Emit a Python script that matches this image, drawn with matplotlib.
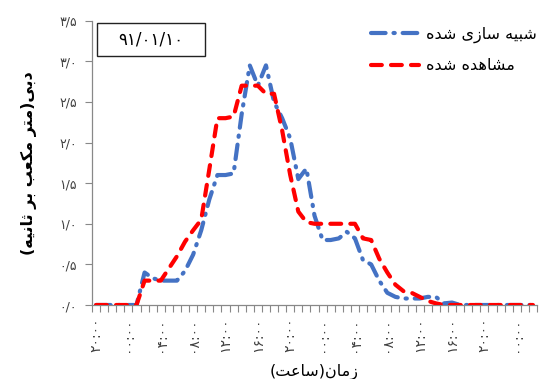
import matplotlib
matplotlib.use("Agg")
import matplotlib.pyplot as plt
from matplotlib.patches import Rectangle
import numpy as np

plt.rcParams['font.family'] = ['DejaVu Sans']

# ---------------- data ----------------
hours = [(20 + i) % 24 for i in range(55)]
simulated = [0, 0, 0, 0, 0, 0, 0.40, 0.33, 0.30, 0.30,
             0.30, 0.42, 0.62, 0.92, 1.30, 1.60, 1.60, 1.62, 2.35, 2.95,
             2.70, 2.95, 2.50, 2.30, 2.05, 1.55, 1.68, 1.10, 0.80, 0.80,
             0.82, 0.90, 0.82, 0.55, 0.50, 0.30, 0.15, 0.10, 0.08, 0.08,
             0.08, 0.10, 0.10, 0.02, 0.03, 0, 0, 0, 0, 0,
             0, 0, 0, 0, 0]
observed = [0, 0, 0, 0, 0, 0, 0.30, 0.30, 0.30, 0.45,
            0.60, 0.78, 0.92, 1.05, 1.67, 2.30, 2.30, 2.32, 2.70, 2.70,
            2.70, 2.60, 2.60, 2.15, 1.60, 1.15, 1.02, 1.00, 1.00, 1.00,
            1.00, 1.00, 1.00, 0.82, 0.80, 0.57, 0.40, 0.25, 0.17, 0.15,
            0.10, 0.05, 0.02, 0, 0, 0, 0, 0, 0, 0,
            0, 0, 0, 0, 0]
y_ticks = [0.0, 0.5, 1.0, 1.5, 2.0, 2.5, 3.0, 3.5]
date_text = "۹۱/۰۱/۱۰"
legend_sim = "شبیه سازی شده"
legend_obs = "مشاهده شده"
y_title = "دبی(متر مکعب بر ثانیه)"
x_title = "زمان(ساعت)"

# ---------------- simple Persian shaping ----------------
FORMS = {
    'ا': ('\uFE8D', '\uFE8E', None, None),
    'ب': ('\uFE8F', '\uFE90', '\uFE91', '\uFE92'),
    'ت': ('\uFE95', '\uFE96', '\uFE97', '\uFE98'),
    'ث': ('\uFE99', '\uFE9A', '\uFE9B', '\uFE9C'),
    'د': ('\uFEA9', '\uFEAA', None, None),
    'ر': ('\uFEAD', '\uFEAE', None, None),
    'ز': ('\uFEAF', '\uFEB0', None, None),
    'س': ('\uFEB1', '\uFEB2', '\uFEB3', '\uFEB4'),
    'ش': ('\uFEB5', '\uFEB6', '\uFEB7', '\uFEB8'),
    'ع': ('\uFEC9', '\uFECA', '\uFECB', '\uFECC'),
    'م': ('\uFEE1', '\uFEE2', '\uFEE3', '\uFEE4'),
    'ن': ('\uFEE5', '\uFEE6', '\uFEE7', '\uFEE8'),
    'ه': ('\uFEE9', '\uFEEA', '\uFEEB', '\uFEEC'),
    'ک': ('\uFB8E', '\uFB8F', '\uFB90', '\uFB91'),
    'ی': ('\uFBFC', '\uFBFD', '\uFBFE', '\uFBFF'),
}


def shape(s):
    out = []
    for k, c in enumerate(s):
        if c not in FORMS:
            out.append(c)
            continue
        prev = s[k - 1] if k > 0 else ''
        nxt = s[k + 1] if k + 1 < len(s) else ''
        jp = prev in FORMS and FORMS[prev][2] is not None
        jn = nxt in FORMS and FORMS[c][2] is not None
        iso, fin, ini, med = FORMS[c]
        if jp and jn:
            out.append(med)
        elif jp:
            out.append(fin)
        elif jn:
            out.append(ini)
        else:
            out.append(iso)
    vis = ''.join(reversed(out))
    return vis.translate(str.maketrans('()', ')('))


def fa_digits(s):
    return s.translate(str.maketrans('0123456789', '۰۱۲۳۴۵۶۷۸۹'))


# ---------------- figure ----------------
fig = plt.figure(figsize=(5.47, 3.79), dpi=100)
ax = fig.add_axes([92 / 547, 1 - 305 / 379, 445 / 547, 284.3 / 379])

x = np.arange(len(hours))
lw = 3.0
ax.plot(x, simulated, color='#4472C4', lw=lw, dashes=(3.5, 1.9, 0.3, 1.9),
        dash_capstyle='round', solid_capstyle='round', label=shape(legend_sim), zorder=3)
ax.plot(x, observed, color='#FF0000', lw=lw, dashes=(2.6, 2.2),
        dash_capstyle='round', label=shape(legend_obs), zorder=4)

ax.set_xlim(-0.5, len(hours) - 0.5)
ax.set_ylim(0, 3.5)

# y axis
ax.set_yticks(y_ticks)
ax.set_yticklabels([fa_digits(f"{v:.1f}".replace('.', '/')) for v in y_ticks],
                   fontsize=9, color='#404040')
ax.tick_params(axis='y', direction='out', length=5, width=0.8, color='#888888', pad=6)

# x axis
lab_idx = list(range(0, len(hours), 4))
ax.set_xticks(lab_idx)
ax.set_xticklabels([fa_digits(f"{hours[i]:02d}:00") for i in lab_idx],
                   rotation=90, fontsize=10, color='#404040')
ax.set_xticks(np.arange(-0.5, len(hours), 1), minor=True)
ax.tick_params(axis='x', which='major', length=0, pad=9)
ax.tick_params(axis='x', which='minor', direction='out', length=5, width=0.8, color='#888888')

for sp in ['top', 'right']:
    ax.spines[sp].set_visible(False)
for sp in ['left', 'bottom']:
    ax.spines[sp].set_color('#888888')
    ax.spines[sp].set_linewidth(0.9)

ax.set_ylabel(shape(y_title), fontsize=11.5, fontweight='bold', labelpad=16)
ax.set_xlabel(shape(x_title), fontsize=11.5, labelpad=8)

# date box
ax.add_patch(Rectangle((0.011, 0.876), 0.243, 0.116, transform=ax.transAxes,
                       fill=False, edgecolor='#222222', lw=1.0, zorder=5))
ax.text(0.1325, 0.934, fa_digits(date_text), transform=ax.transAxes,
        ha='center', va='center', fontsize=12, zorder=6)

leg = fig.legend(loc='upper left', bbox_to_anchor=(371 / 547, 1 - 27 / 379),
                 frameon=False, fontsize=11.5, handlelength=3.0, handletextpad=0.45,
                 labelspacing=0.95, borderpad=0, borderaxespad=0)

fig.savefig('out.png', dpi=100)
